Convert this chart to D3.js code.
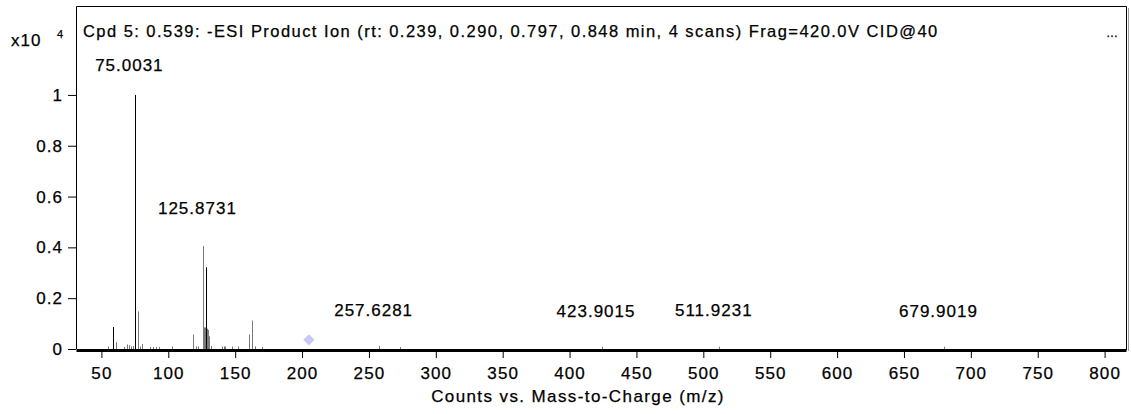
<!DOCTYPE html>
<html>
<head>
<meta charset="utf-8">
<script src="https://cdn.jsdelivr.net/npm/d3@7"></script>
<style>
  body { margin: 0; background: #fff; }
  svg { display: block; font-family: "Liberation Sans", Arial, sans-serif; }
  text { fill: #000; stroke: #000; stroke-width: .25; }
</style>
</head>
<body>
<div id="graph"></div>
<script>
var title = 'Cpd 5: 0.539: -ESI Product Ion (rt: 0.239, 0.290, 0.797, 0.848 min, 4 scans) Frag=420.0V CID@40'
var xTitle = 'Counts vs. Mass-to-Charge (m/z)'

// intensities in x10^4 counts
var darkMz  = [58.8, 75.0, 128.2]
var darkInt = [0.087, 1.0, 0.322]

var grayMz  = [54.8, 61.2, 66.8, 68.8, 70.3, 71.8, 73.3, 77.0, 78.7, 80.5, 86.5, 88.5, 91.0, 93.0,
  102.5, 118.7, 120.5, 122.0, 125.9, 126.7, 127.3, 128.9, 129.6, 130.8, 132.0, 140.5, 141.5,
  142.5, 147.8, 152.3, 160.3, 162.8, 164.5, 169.8, 257.6, 273.5, 423.9, 511.9, 679.9]
var grayInt = [0.01, 0.027, 0.008, 0.018, 0.015, 0.01, 0.012, 0.148, 0.01, 0.02, 0.008, 0.008, 0.008, 0.008,
  0.01, 0.057, 0.01, 0.01, 0.406, 0.085, 0.085, 0.08, 0.075, 0.05, 0.012, 0.01, 0.01,
  0.01, 0.01, 0.01, 0.057, 0.112, 0.01, 0.008, 0.012, 0.008, 0.009, 0.009, 0.009]

var labelMz    = [75.0031, 125.8731, 257.6281, 423.9015, 511.9231, 679.9019]
var labelLevel = [1.093, 0.531, 0.130, 0.126, 0.130, 0.126]

var precursorMz = [205.1]
var precursorInt = [0.036]

var xTicks = d3.range(50, 801, 50)
var yTicks = [0, 0.2, 0.4, 0.6, 0.8, 1]

!(function(){
  var width = 1131, height = 414
  var m = {left: 76, right: 1126, top: 6, base: 349}

  var svg = d3.select('#graph').append('svg')
    .attr('width', width).attr('height', height)

  var x = d3.scaleLinear().domain([31, 816]).range([m.left, m.right])
  var y = d3.scaleLinear().domain([0, 1.35]).range([m.base, m.top])

  // frame
  svg.append('path')
    .attr('d', `M${m.left + .5},${m.base} V${m.top + .5} H${m.right + .5} V${m.base + 1}`)
    .attr('fill', 'none').attr('stroke', '#000')
  svg.append('line')
    .attr('x1', m.right + 2.5).attr('x2', m.right + 2.5)
    .attr('y1', m.top + 2).attr('y2', m.base + 2)
    .attr('stroke', '#999')

  // peaks
  var peaks = grayMz.map((d, i) => ({mz: d, v: grayInt[i], c: '#7a7a7a'}))
    .concat(darkMz.map((d, i) => ({mz: d, v: darkInt[i], c: '#000'})))

  svg.selectAll('line.peak').data(peaks).join('line')
    .attr('class', 'peak')
    .attr('x1', d => Math.round(x(d.mz)) + .5)
    .attr('x2', d => Math.round(x(d.mz)) + .5)
    .attr('y1', y(0))
    .attr('y2', d => y(d.v))
    .attr('stroke', d => d.c)

  // precursor marker
  svg.selectAll('path.prec').data(precursorMz).join('path')
    .attr('class', 'prec')
    .attr('d', d3.symbol(d3.symbolDiamond2, 80))
    .attr('transform', (d, i) => `translate(${x(d)},${y(precursorInt[i])})`)
    .attr('fill', '#c8c8f6')

  // peak labels
  svg.selectAll('text.lab').data(labelMz).join('text')
    .attr('class', 'lab')
    .attr('x', d => x(d) - 5.5)
    .attr('y', (d, i) => y(labelLevel[i]))
    .attr('text-anchor', 'middle')
    .attr('font-size', 17)
    .attr('letter-spacing', 1)
    .text(d => d3.format('.4f')(d))

  // axes
  var xAxis = svg.append('g')
    .attr('transform', `translate(0,${m.base + 1})`)
    .call(d3.axisBottom(x).tickValues(xTicks).tickSizeInner(8).tickSizeOuter(0).tickPadding(9))
  xAxis.attr('font-family', null).attr('font-size', 17)
  xAxis.select('.domain').attr('stroke-width', 3)
  xAxis.selectAll('text').attr('letter-spacing', 1.1)

  var yAxis = svg.append('g')
    .attr('transform', `translate(${m.left},0)`)
    .call(d3.axisLeft(y).tickValues(yTicks).tickSizeInner(8).tickSizeOuter(0).tickPadding(5)
      .tickFormat(d => d === 0 || d === 1 ? d : d3.format('.1f')(d)))
  yAxis.attr('font-family', null).attr('font-size', 17)
  yAxis.selectAll('text').attr('letter-spacing', 1)
  yAxis.select('.domain').remove()

  // titles
  svg.append('text')
    .attr('x', 83).attr('y', 37)
    .attr('font-size', 16.5)
    .attr('letter-spacing', 1.45)
    .text(title)
  svg.append('text')
    .attr('x', 1106).attr('y', 37)
    .attr('font-size', 12)
    .text('…')
  svg.append('text')
    .attr('x', 578).attr('y', 402)
    .attr('text-anchor', 'middle')
    .attr('font-size', 17)
    .attr('letter-spacing', 1.4)
    .text(xTitle)

  var yl = svg.append('text').attr('x', 11).attr('y', 46).attr('font-size', 17)
    .attr('letter-spacing', 1)
  yl.append('tspan').text('x10')
  yl.append('tspan').attr('x', 57).attr('y', 38).attr('font-size', 11).text('4')
})()
</script>
</body>
</html>
